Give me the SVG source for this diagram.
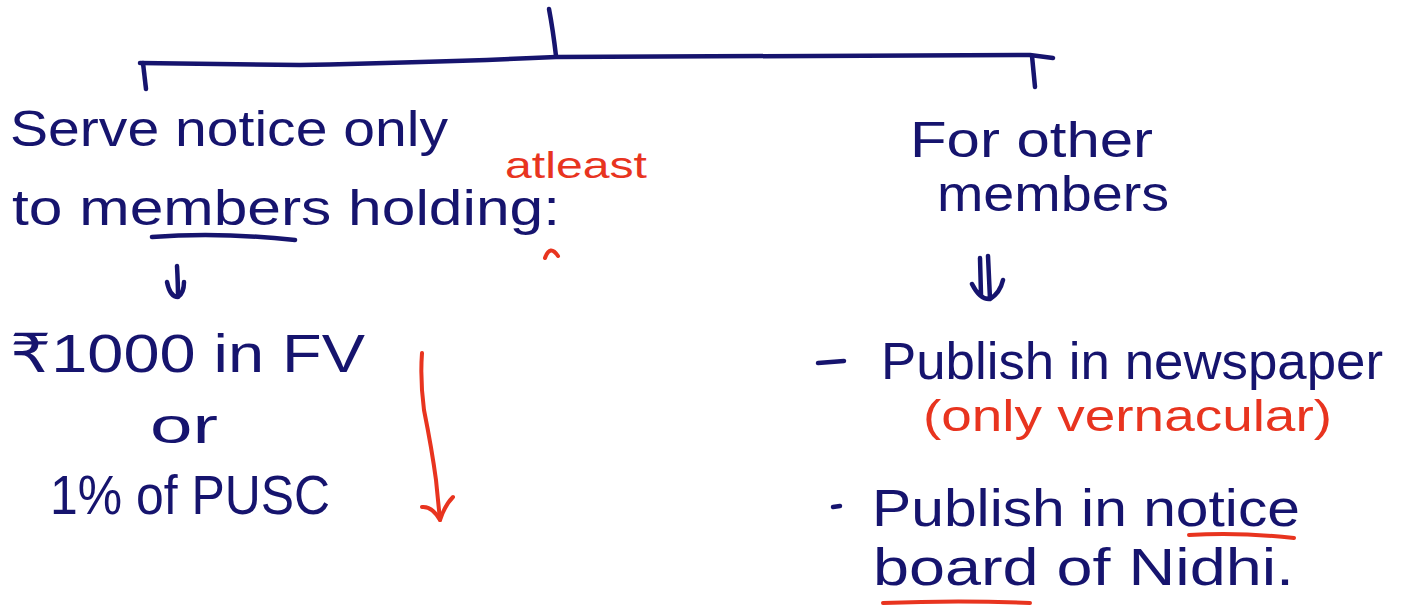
<svg xmlns="http://www.w3.org/2000/svg" width="1407" height="606" viewBox="0 0 1407 606">
  <style>
    .ink { fill: #16146e; font-family: "Liberation Sans", "DejaVu Sans", sans-serif; }
    .red { fill: #e8341f; font-family: "Liberation Sans", "DejaVu Sans", sans-serif; }
    .pen { stroke: #16146e; stroke-width: 4.5; fill: none; stroke-linecap: round; stroke-linejoin: round; }
    .rpen { stroke: #e8341f; stroke-width: 4; fill: none; stroke-linecap: round; stroke-linejoin: round; }
  </style>
  <rect width="1407" height="606" fill="#ffffff"/>

  <!-- tree lines and arrows -->
  <g id="connectors">
    <path class="pen" d="M549 9 Q553 30 556 56"/>
    <path class="pen" d="M140 63 L300 65 Q450 62 556 57 L1030 55 L1053 58"/>
    <path class="pen" d="M143 63 L146 89"/>
    <path class="pen" d="M1032 56 L1035 87"/>
    <!-- single arrow under "members" -->
    <path class="pen" d="M177 266 Q178 284 178 297 M167 282 Q170 297 178 297 Q184 293 184 282"/>
    <!-- double arrow under "For other members" -->
    <path class="pen" d="M980 258 L981 295 M988 256 L990 299 M972 284 Q980 300 990 299 Q1000 293 1003 280"/>
    <!-- red downward arrow -->
    <path class="rpen" d="M422 353 Q420 380 424 410 Q432 450 436 480 L440 520"/>
    <path class="rpen" d="M422 507 Q432 506 440 520 Q445 505 453 497"/>
  </g>

  <g id="left-branch">
    <text class="ink" x="10" y="146" font-size="50" textLength="438" lengthAdjust="spacingAndGlyphs">Serve notice only</text>
    <text class="ink" x="12" y="225" font-size="50" textLength="548" lengthAdjust="spacingAndGlyphs">to members holding:</text>
    <path class="pen" d="M152 237 Q220 232 295 240"/>
    <text class="red" x="505" y="178" font-size="36" textLength="142" lengthAdjust="spacingAndGlyphs">atleast</text>
    <path class="rpen" d="M545 258 Q550 244 558 256"/>
  </g>

  <g id="left-conditions">
    <text class="ink" x="10" y="372" font-size="54" textLength="355" lengthAdjust="spacingAndGlyphs">₹1000 in FV</text>
    <text class="ink" x="150" y="443" font-size="50" textLength="68" lengthAdjust="spacingAndGlyphs">or</text>
    <text class="ink" x="50" y="514" font-size="56" textLength="280" lengthAdjust="spacingAndGlyphs">1% of PUSC</text>
  </g>

  <g id="right-branch">
    <text class="ink" x="910" y="157" font-size="50" textLength="243" lengthAdjust="spacingAndGlyphs">For other</text>
    <text class="ink" x="937" y="211" font-size="50" textLength="232" lengthAdjust="spacingAndGlyphs">members</text>
  </g>

  <g id="right-actions">
    <path class="pen" d="M818 363 L844 361"/>
    <text class="ink" x="881" y="379" font-size="52" textLength="502" lengthAdjust="spacingAndGlyphs">Publish in newspaper</text>
    <text class="red" x="923" y="431" font-size="44" textLength="409" lengthAdjust="spacingAndGlyphs">(only vernacular)</text>
    <path class="pen" d="M833 507 L840 506"/>
    <text class="ink" x="872" y="526" font-size="52" textLength="428" lengthAdjust="spacingAndGlyphs">Publish in notice</text>
    <path class="rpen" d="M1189 535 Q1240 532 1294 538"/>
    <text class="ink" x="873" y="585" font-size="52" textLength="421" lengthAdjust="spacingAndGlyphs">board of Nidhi.</text>
    <path class="rpen" d="M883 603 Q960 600 1030 603"/>
  </g>
</svg>
